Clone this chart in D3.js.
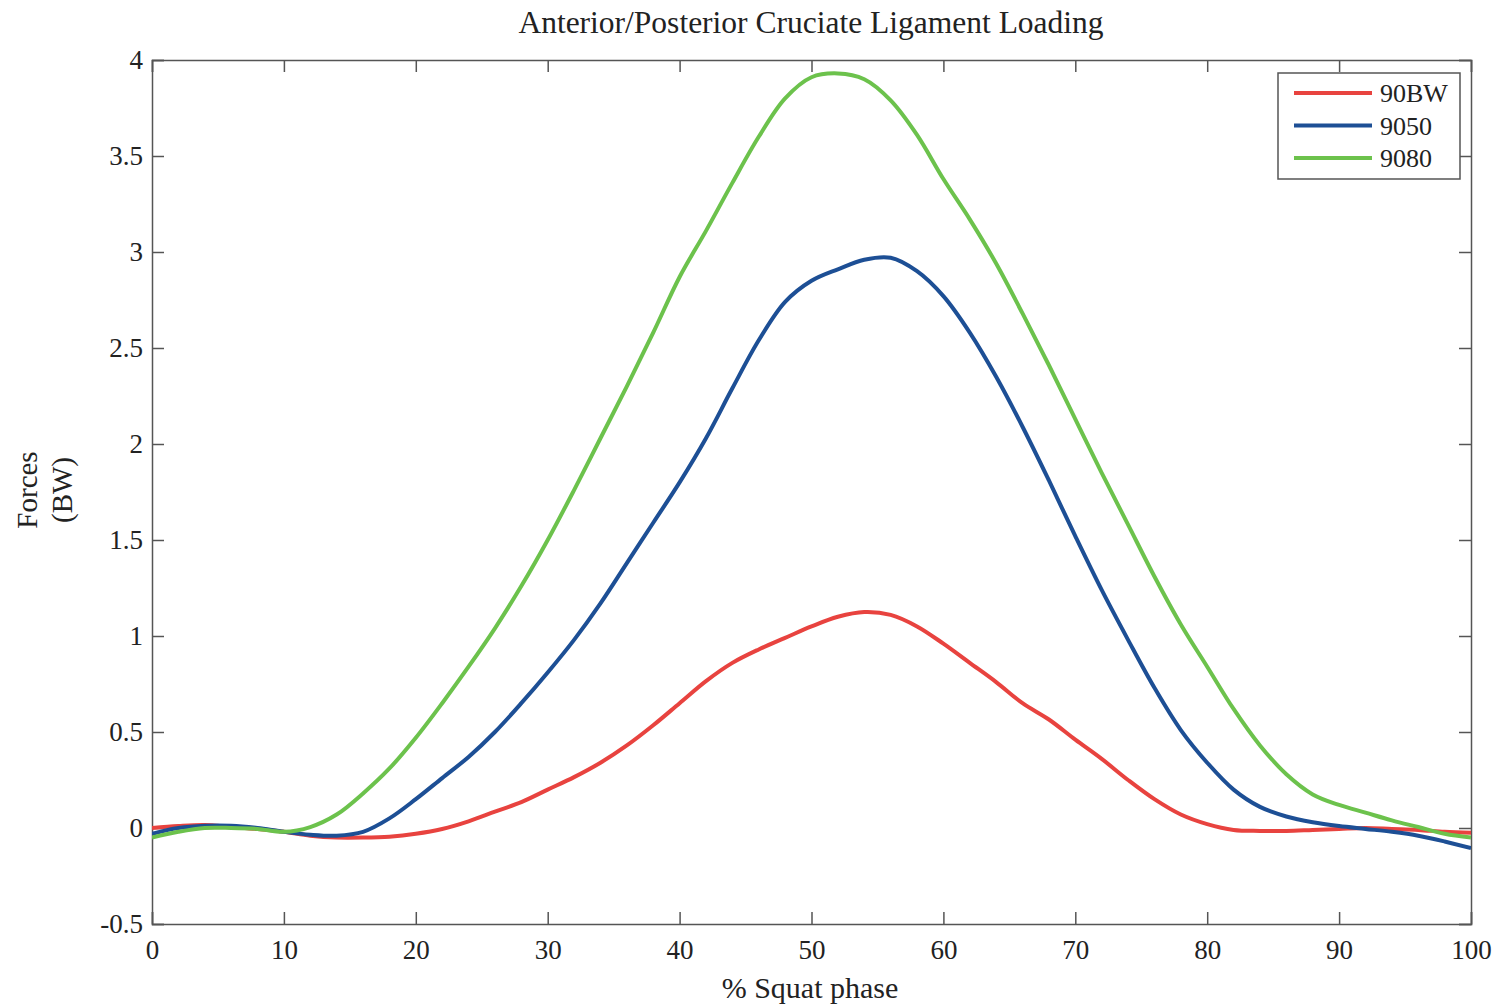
<!DOCTYPE html>
<html>
<head>
<meta charset="utf-8">
<script src="https://cdn.jsdelivr.net/npm/d3@7"></script>
<style>
  html, body { margin: 0; padding: 0; background: #fff; }
  svg { display: block; }
  text { font-family: "Liberation Serif", "DejaVu Serif", serif; fill: #222; }
  .axis path, .axis line { stroke: #555; stroke-width: 1.5; }
  .axis text { font-size: 27px; fill: #222; font-family: "Liberation Serif", serif; }
</style>
</head>
<body>
<svg id="chart" width="1502" height="1006"></svg>
<script>
// Squat phase, percent (sampled every 2 %)
const phase = d3.range(0, 101, 2);

// Cruciate ligament force in body weights for each condition
const load90BW = [
  0.0, 0.01, 0.015, 0.005, -0.005, -0.02, -0.04, -0.05, -0.05, -0.045,
  -0.03, -0.005, 0.035, 0.085, 0.135, 0.20, 0.265, 0.34, 0.43, 0.535,
  0.65, 0.765, 0.86, 0.93, 0.99, 1.05, 1.10, 1.125, 1.11, 1.05,
  0.96, 0.86, 0.76, 0.65, 0.565, 0.46, 0.36, 0.25, 0.15, 0.07,
  0.02, -0.01, -0.015, -0.015, -0.01, -0.005, 0.0, -0.005, -0.01, -0.02,
  -0.025
];
const load9050 = [
  -0.03, 0.0, 0.012, 0.012, 0.0, -0.02, -0.035, -0.04, -0.02, 0.05,
  0.15, 0.26, 0.37, 0.50, 0.65, 0.81, 0.98, 1.17, 1.38, 1.59,
  1.80, 2.03, 2.29, 2.54, 2.74, 2.85, 2.91, 2.96, 2.97, 2.90,
  2.77, 2.58, 2.35, 2.09, 1.81, 1.52, 1.24, 0.98, 0.73, 0.51,
  0.34, 0.20, 0.11, 0.06, 0.03, 0.01, -0.005, -0.02, -0.04, -0.07,
  -0.105
];
const load9080 = [
  -0.05, -0.02, 0.0, 0.0, -0.005, -0.02, 0.005, 0.07, 0.18, 0.31,
  0.47, 0.65, 0.84, 1.04, 1.26, 1.50, 1.76, 2.03, 2.30, 2.58,
  2.87, 3.11, 3.36, 3.60, 3.80, 3.91, 3.93, 3.90, 3.79, 3.61,
  3.38, 3.17, 2.94, 2.68, 2.41, 2.13, 1.85, 1.58, 1.31, 1.06,
  0.84, 0.62, 0.43, 0.28, 0.175, 0.12, 0.08, 0.04, 0.005, -0.03,
  -0.05
];

const seriesNames = ["90BW", "9050", "9080"];
const seriesColors = ["#e8433f", "#1d4f95", "#6cc24c"];
const xTicks = [0, 10, 20, 30, 40, 50, 60, 70, 80, 90, 100];
const yTicks = [-0.5, 0, 0.5, 1, 1.5, 2, 2.5, 3, 3.5, 4];

const series = [load90BW, load9050, load9080].map((vals, i) => ({
  name: seriesNames[i],
  color: seriesColors[i],
  points: phase.map((p, j) => [p, vals[j]])
}));

const svg = d3.select("#chart");
const plot = { left: 152, right: 1471, top: 60, bottom: 924 };

const x = d3.scaleLinear().domain([0, 100]).range([plot.left, plot.right]);
const y = d3.scaleLinear().domain([-0.5, 4]).range([plot.bottom, plot.top]);

// plain hyphen for negatives
const fmt = d => String(d);

// Frame and inward ticks on all four sides
svg.append("g").attr("class", "axis")
  .attr("transform", `translate(0,${plot.bottom})`)
  .call(d3.axisBottom(x).tickValues(xTicks).tickSize(-12).tickPadding(16).tickFormat(fmt));
svg.append("g").attr("class", "axis")
  .attr("transform", `translate(0,${plot.top})`)
  .call(d3.axisTop(x).tickValues(xTicks).tickSize(-12).tickFormat(""));
svg.append("g").attr("class", "axis")
  .attr("transform", `translate(${plot.left},0)`)
  .call(d3.axisLeft(y).tickValues(yTicks).tickSize(-12).tickPadding(9).tickFormat(fmt));
svg.append("g").attr("class", "axis")
  .attr("transform", `translate(${plot.right},0)`)
  .call(d3.axisRight(y).tickValues(yTicks).tickSize(-12).tickFormat(""));

// Curves
const line = d3.line()
  .x(d => x(d[0]))
  .y(d => y(d[1]))
  .curve(d3.curveCatmullRom.alpha(0.5));

svg.append("clipPath").attr("id", "plot-clip")
  .append("rect").attr("x", plot.left).attr("y", plot.top)
  .attr("width", plot.right - plot.left).attr("height", plot.bottom - plot.top);

svg.append("g").attr("clip-path", "url(#plot-clip)")
  .selectAll("path")
  .data(series)
  .join("path")
  .attr("fill", "none")
  .attr("stroke", d => d.color)
  .attr("stroke-width", 4)
  .attr("stroke-linejoin", "round")
  .attr("d", d => line(d.points));

// Title and axis labels
svg.append("text")
  .attr("x", 811).attr("y", 33)
  .attr("text-anchor", "middle")
  .attr("font-size", 31.5)
  .text("Anterior/Posterior Cruciate Ligament Loading");

svg.append("text")
  .attr("x", 810).attr("y", 998)
  .attr("text-anchor", "middle")
  .attr("font-size", 30)
  .text("% Squat phase");

svg.append("text")
  .attr("transform", "translate(37,490) rotate(-90)")
  .attr("text-anchor", "middle")
  .attr("font-size", 29)
  .text("Forces");
svg.append("text")
  .attr("transform", "translate(72,490) rotate(-90)")
  .attr("text-anchor", "middle")
  .attr("font-size", 29)
  .text("(BW)");

// Legend
const legend = svg.append("g");
legend.append("rect")
  .attr("x", 1278).attr("y", 73)
  .attr("width", 182).attr("height", 106)
  .attr("fill", "#fff").attr("stroke", "#555").attr("stroke-width", 1.5);

const rowY = d3.scalePoint().domain(seriesNames).range([93, 158]);
const rows = legend.selectAll("g.row").data(series).join("g").attr("class", "row");
rows.append("line")
  .attr("x1", 1294).attr("x2", 1372)
  .attr("y1", d => rowY(d.name)).attr("y2", d => rowY(d.name))
  .attr("stroke", d => d.color).attr("stroke-width", 4);
rows.append("text")
  .attr("x", 1380).attr("y", d => rowY(d.name))
  .attr("dy", "0.35em")
  .attr("font-size", 26)
  .text(d => d.name);
</script>
</body>
</html>
